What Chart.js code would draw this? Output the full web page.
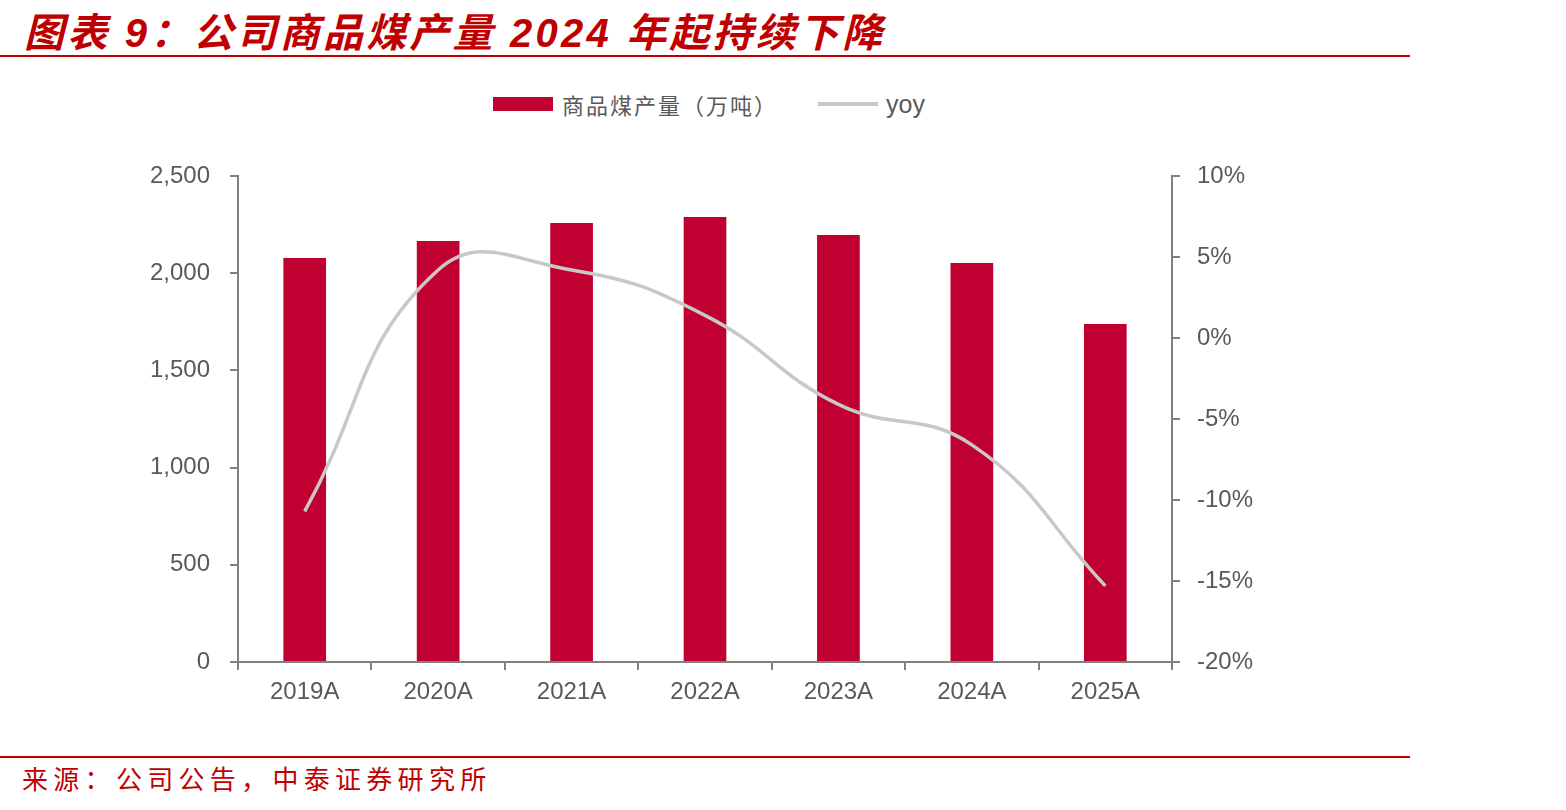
<!DOCTYPE html>
<html>
<head>
<meta charset="utf-8">
<script src="https://cdn.jsdelivr.net/npm/chart.js@4"></script>
<style>
  body { margin: 0; width: 1566px; height: 810px; background: #fff; position: relative; overflow: hidden; }
  #title { position: absolute; left: 24px; top: 1px; font: italic bold 40px "Liberation Sans", "Noto Sans CJK SC", sans-serif; color: #c00000; white-space: nowrap; letter-spacing: 3.2px; }
  .rule { position: absolute; left: 0; width: 1410px; height: 2px; background: #c00000; }
  #source { position: absolute; left: 22px; top: 759px; font: 26px "Noto Sans CJK SC", sans-serif; color: #c00000; white-space: nowrap; letter-spacing: 5.3px; }
  #legend { position: absolute; top: 89px; left: 493px; height: 30px; display: flex; align-items: center; font: 25px "Liberation Sans", "Noto Sans CJK SC", sans-serif; color: #595959; white-space: nowrap; }
  .box { width: 60px; height: 14px; background: #c00030; margin-right: 9px; }
  .ln { width: 60px; height: 4px; background: #c8c8c8; margin-left: 40px; margin-right: 8px; }
  canvas { position: absolute; left: 0; top: 0; }
</style>
</head>
<body>
<div id="title">图表 9：公司商品煤产量 2024 年起持续下降</div>
<div class="rule" style="top:55px"></div>
<div id="legend"><div class="box"></div><span style="font-size:22px;letter-spacing:2px">商品煤产量（万吨）</span><div class="ln"></div><span>yoy</span></div>
<div class="rule" style="top:756px"></div>
<div id="source">来源：公司公告，中泰证券研究所</div>
<canvas id="chart" width="1566" height="810"></canvas>
<script>
// values
var years = ['2019A', '2020A', '2021A', '2022A', '2023A', '2024A', '2025A'];
var output = [2078, 2166, 2258, 2289, 2196, 2052, 1739];
var yoy = [-10.7, 4.2, 4.2, 1.4, -4.1, -6.6, -15.3];

Chart.defaults.font.family = '"Liberation Sans", Arial, sans-serif';
Chart.defaults.font.size = 24;
Chart.defaults.color = '#595959';

var axisGray = '#808080';

var chart = new Chart('chart', {
  data: {
    labels: years,
    datasets: [
      {
        label: 'yoy',
        type: 'line',
        data: yoy,
        yAxisID: 'y1',
        borderColor: '#c8c8c8',
        borderWidth: 3.5,
        pointRadius: 0,
        fill: false,
        tension: 0.45,
        order: 0
      },
      {
        label: '商品煤产量（万吨）',
        type: 'bar',
        data: output,
        yAxisID: 'y',
        backgroundColor: '#c00030',
        categoryPercentage: 1,
        barPercentage: 0.32,
        order: 1
      }
    ]
  },
  options: {
    responsive: false,
    animation: false,
    layout: { padding: { top: 176, bottom: 0, left: 0, right: 0 } },
    plugins: { legend: { display: false }, tooltip: { enabled: false } },
    scales: {
      x: {
        offset: true,
        afterFit: function(s) { s.height = 148; },
        grid: { drawOnChartArea: false, offset: true, color: axisGray, tickLength: 8, lineWidth: 2 },
        border: { color: axisGray, width: 2 },
        ticks: { padding: 8 }
      },
      y: {
        position: 'left',
        min: 0, max: 2500,
        afterFit: function(s) { s.width = 238; },
        grid: { drawOnChartArea: false, color: axisGray, tickLength: 8, lineWidth: 2 },
        border: { color: axisGray, width: 2 },
        ticks: {
          stepSize: 500, padding: 20,
          callback: function(v) { return v.toLocaleString('en-US'); }
        }
      },
      y1: {
        position: 'right',
        min: -20, max: 10,
        afterFit: function(s) { s.width = 394; },
        grid: { drawOnChartArea: false, color: axisGray, tickLength: 8, lineWidth: 2 },
        border: { color: axisGray, width: 2 },
        ticks: {
          stepSize: 5, padding: 17,
          callback: function(v) { return v + '%'; }
        }
      }
    }
  }
});
</script>
</body>
</html>
